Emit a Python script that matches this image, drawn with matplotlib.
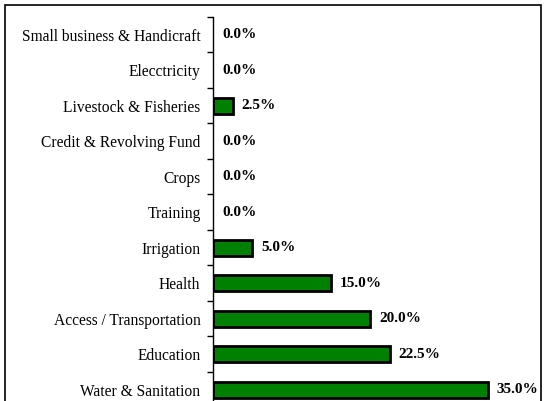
import matplotlib
matplotlib.use("Agg")
import matplotlib.pyplot as plt
from matplotlib.patches import Rectangle
import numpy as np

categories = ["Water & Sanitation", "Education", "Access / Transportation", "Health",
              "Irrigation", "Training", "Crops", "Credit & Revolving Fund",
              "Livestock & Fisheries", "Elecctricity", "Small business & Handicraft"]
values = [35.0, 22.5, 20.0, 15.0, 5.0, 0.0, 0.0, 0.0, 2.5, 0.0, 0.0]

plt.rcParams['font.family'] = ['Liberation Serif', 'DejaVu Serif']

W, H = 544, 401
fig = plt.figure(figsize=(W / 100, H / 100), dpi=100)

# outer border
fig.patches.append(Rectangle((5 / W, -0.1), (541 - 5) / W, 1.1 - 5 / H,
                             transform=fig.transFigure, fill=False,
                             edgecolor='black', linewidth=1.2, zorder=0))

n = len(categories)
top_px, spacing = 17, 35.5
bottom_px = top_px + n * spacing
left_px, right_px = 213, 527
ax = fig.add_axes([left_px / W, 1 - bottom_px / H, (right_px - left_px) / W, (bottom_px - top_px) / H])

y = np.arange(n)
lws = [2.0 if v > 0 else 0 for v in values]
ax.barh(y, values, height=0.44, color='#008000', edgecolor='black', linewidth=lws, zorder=3)
ax.set_ylim(-0.5, n - 0.5)
ax.set_xlim(0, 40)

for yi, v in zip(y, values):
    ax.annotate(f"{v:.1f}%", (v, yi), xytext=(6.5, 0), textcoords='offset points',
                va='center', ha='left', fontsize=11, fontweight='bold')

ax.set_yticks(y)
ax.set_yticklabels(categories, fontsize=11.2)
ax.set_yticks(np.arange(n + 1) - 0.5, minor=True)
ax.tick_params(axis='y', which='major', length=0, pad=9)
ax.tick_params(axis='y', which='minor', length=4, width=1, direction='out')
ax.set_xticks([])
for s in ['top', 'right', 'bottom']:
    ax.spines[s].set_visible(False)
ax.spines['left'].set_linewidth(1)
ax.patch.set_alpha(0)

fig.savefig("out.png", dpi=100)
